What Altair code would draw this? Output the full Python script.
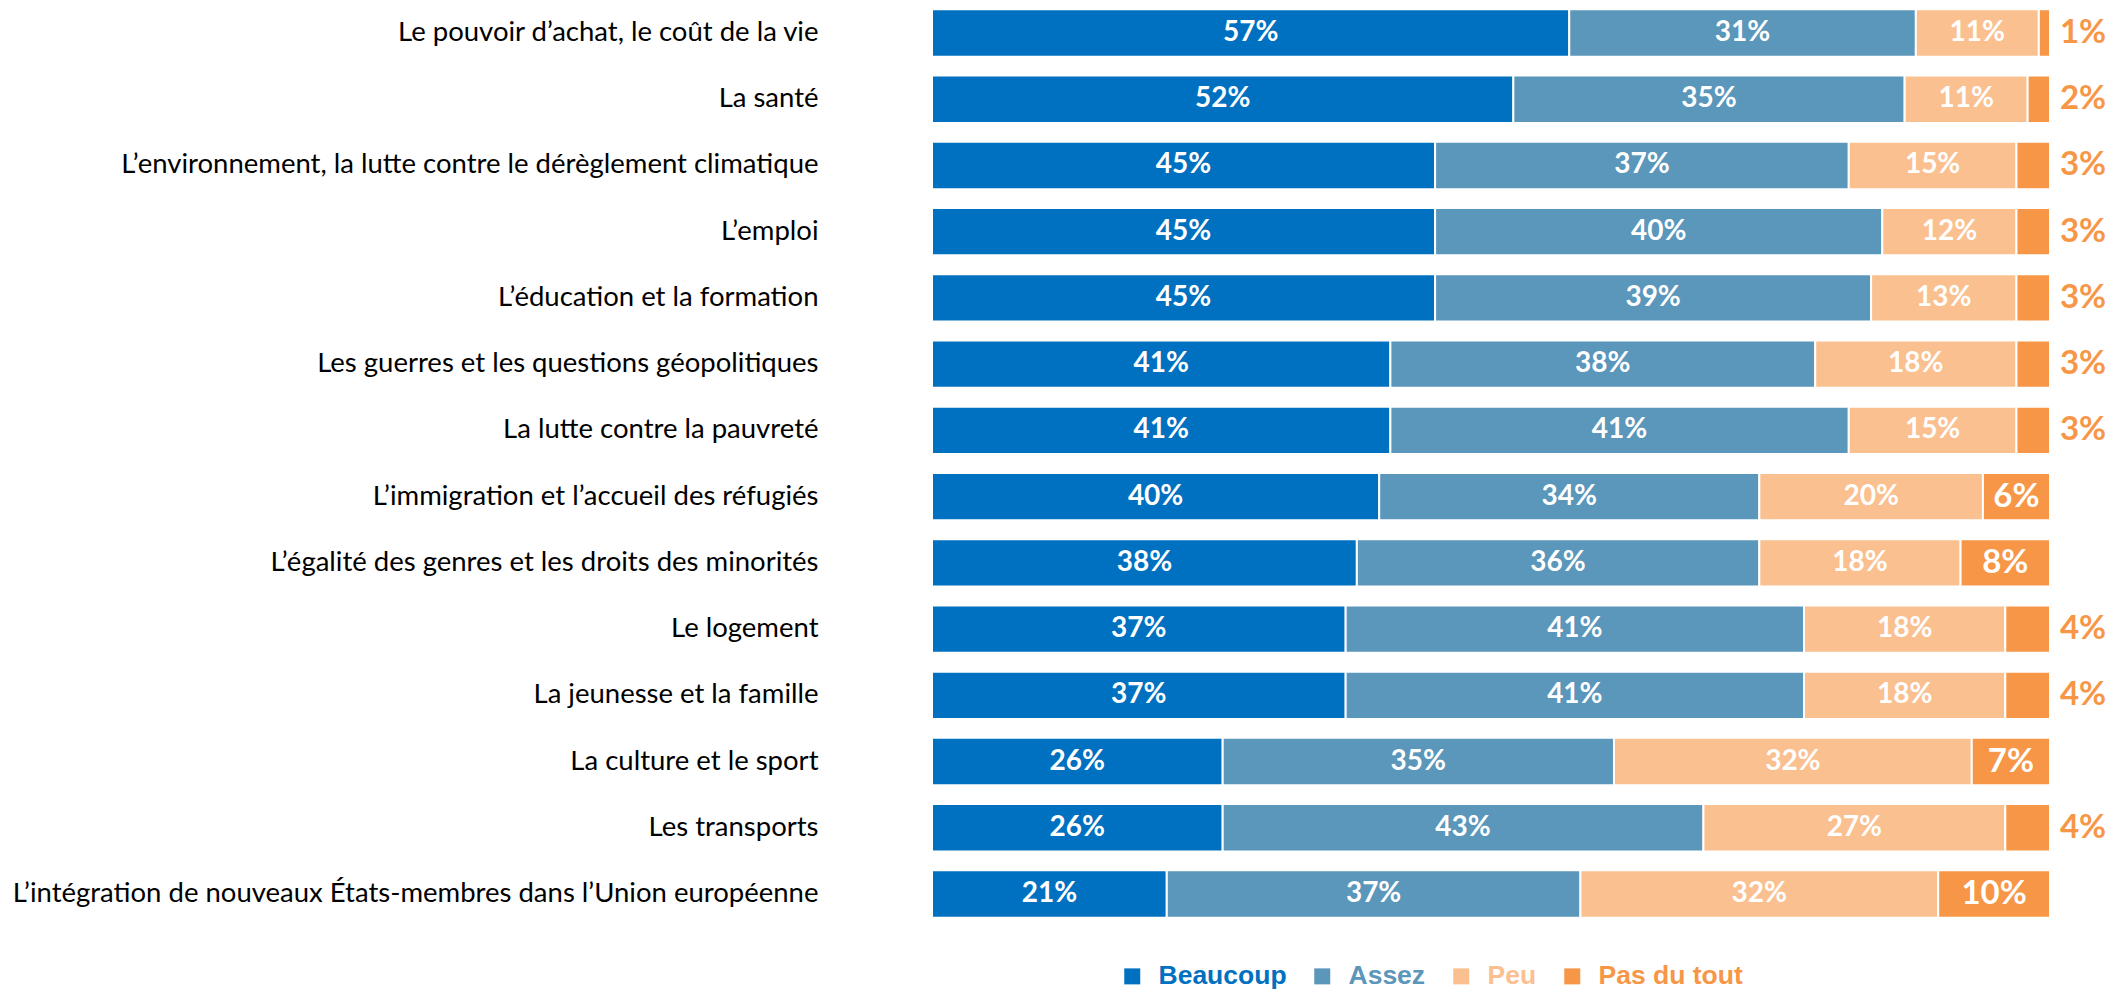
import altair as alt
import pandas as pd

categories = [
    "Le pouvoir d’achat, le coût de la vie",
    "La santé",
    "L’environnement, la lutte contre le dérèglement climatique",
    "L’emploi",
    "L’éducation et la formation",
    "Les guerres et les questions géopolitiques",
    "La lutte contre la pauvreté",
    "L’immigration et l’accueil des réfugiés",
    "L’égalité des genres et les droits des minorités",
    "Le logement",
    "La jeunesse et la famille",
    "La culture et le sport",
    "Les transports",
    "L’intégration de nouveaux États-membres dans l’Union européenne",
]
beaucoup = [57, 52, 45, 45, 45, 41, 41, 40, 38, 37, 37, 26, 26, 21]
assez = [31, 35, 37, 40, 39, 38, 41, 34, 36, 41, 41, 35, 43, 37]
peu = [11, 11, 15, 12, 13, 18, 15, 20, 18, 18, 18, 32, 27, 32]
pas_du_tout = [1, 2, 3, 3, 3, 3, 3, 6, 8, 4, 4, 7, 4, 10]

series = ["Beaucoup", "Assez", "Peu", "Pas du tout"]
colors = ["#0070C0", "#5B96BB", "#FAC090", "#F79646"]

rows = []
for i, c in enumerate(categories):
    for j, (s, vals) in enumerate(zip(series, [beaucoup, assez, peu, pas_du_tout])):
        rows.append({"cat": c, "serie": s, "value": vals[i], "ord": j})
df = pd.DataFrame(rows)

label_expr = (
    "datum.value == 'Beaucoup' ? '#0070C0' : datum.value == 'Assez' ? '#5B96BB' : "
    "datum.value == 'Peu' ? '#FAC090' : '#F79646'"
)

base = alt.Chart(df).transform_stack(
    stack="value", groupby=["cat"], as_=["v0", "v1"], sort=[alt.SortField("ord", "ascending")]
).transform_calculate(
    mid="(datum.v0 + datum.v1) / 2", lab="datum.value + '%'"
)

yenc = alt.Y(
    "cat:N",
    sort=categories,
    title=None,
    scale=alt.Scale(paddingInner=0.285, paddingOuter=0.02),
    axis=alt.Axis(
        domain=False, ticks=False, labelFont="Lato", labelFontSize=27.5,
        labelColor="#000000", labelPadding=114, labelLimit=1000,
    ),
)
xscale = alt.Scale(domain=[0, 100], nice=False, zero=True)

bars = base.mark_bar(stroke="white", strokeWidth=2).encode(
    x=alt.X("v0:Q", scale=xscale, axis=None),
    x2="v1:Q",
    y=yenc,
    color=alt.Color(
        "serie:N",
        scale=alt.Scale(domain=series, range=colors),
        sort=series,
        legend=alt.Legend(
            title=None, orient="none", direction="horizontal",
            legendX=187, legendY=955,
            symbolType="square", symbolSize=256, symbolStrokeWidth=0,
            labelFont="Liberation Sans",
            labelFontWeight="bold", labelFontSize=26.5,
            labelColor=alt.ExprRef(label_expr), labelOffset=13, columnPadding=22,
        ),
    ),
    order=alt.Order("ord:Q"),
)

inner = base.transform_filter("datum.serie != 'Pas du tout'").mark_text(
    font="Lato", fontWeight="bold", fontSize=28, color="white", baseline="middle"
).encode(x=alt.X("mid:Q", scale=xscale), y=alt.Y("cat:N", sort=categories), text="lab:N")

pdt_in = base.transform_filter("datum.serie == 'Pas du tout' && datum.value >= 5").mark_text(
    font="Lato", fontWeight="bold", fontSize=33, color="white", baseline="middle"
).encode(x=alt.X("mid:Q", scale=xscale), y=alt.Y("cat:N", sort=categories), text="lab:N")

pdt_out = base.transform_filter("datum.serie == 'Pas du tout' && datum.value < 5").mark_text(
    font="Lato", fontWeight="bold", fontSize=33, color="#F79646", baseline="middle",
    align="center", dx=33,
).encode(x=alt.X("v1:Q", scale=xscale), y=alt.Y("cat:N", sort=categories), text="lab:N")

chart = alt.layer(bars, inner, pdt_in, pdt_out).properties(
    width=1118, height=911,
    autosize=alt.AutoSizeParams(type="none"),
    padding={"left": 924, "top": 0, "right": 58, "bottom": 74},
).configure_view(stroke=None)

chart.save("out.html", embed_options={"renderer": "svg", "actions": False})
